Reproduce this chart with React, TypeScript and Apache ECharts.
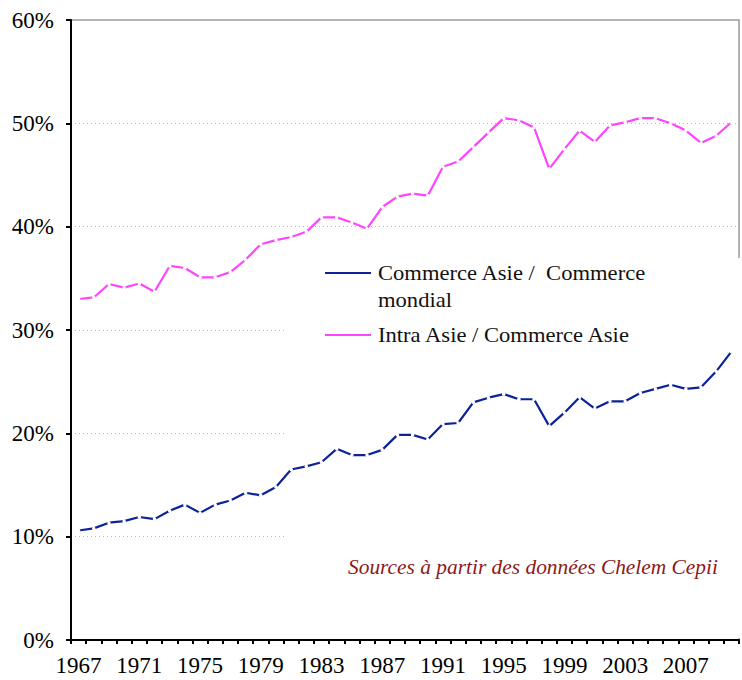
import React, { useEffect, useRef } from "react";
import * as echarts from "echarts";

const years: string[] = [];
for (let y = 1967; y <= 2010; y++) years.push(String(y));

const asieMondial: number[] = [
  10.6, 10.8, 11.35, 11.5, 11.9, 11.7, 12.5, 13.1, 12.3, 13.1,
  13.5, 14.25, 14.0, 14.8, 16.5, 16.8, 17.2, 18.5, 17.9, 17.9,
  18.4, 19.85, 19.85, 19.4, 20.9, 21.0, 23.0, 23.45, 23.8, 23.3,
  23.3, 20.7, 22.0, 23.5, 22.4, 23.1, 23.1, 23.9, 24.3, 24.7,
  24.3, 24.45, 26.0, 27.9,
];

const intraAsie: number[] = [
  33.0, 33.15, 34.45, 34.1, 34.5, 33.7, 36.2, 36.0, 35.1, 35.1,
  35.6, 36.8, 38.3, 38.7, 39.0, 39.5, 40.9, 40.9, 40.4, 39.8,
  41.9, 42.9, 43.2, 43.0, 45.8, 46.3, 47.7, 49.1, 50.5, 50.3,
  49.6, 45.6, 47.5, 49.3, 48.2, 49.8, 50.1, 50.5, 50.5, 50.0,
  49.3, 48.1, 48.8, 50.1,
];

const seriesNames = ["Commerce Asie /  Commerce mondial", "Intra Asie / Commerce Asie"];
const legendLines = [["Commerce Asie /  Commerce", "mondial"], ["Intra Asie / Commerce Asie"]];
const sourceText = "Sources à partir des données Chelem Cepii";

const BLUE = "#0b2299";
const PINK = "#ff44ff";
const FONT = "'Liberation Serif', 'Times New Roman', serif";

export default function App() {
  const ref = useRef<HTMLDivElement>(null);
  useEffect(() => {
    document.body.style.margin = "0";
    const chart = echarts.init(ref.current!, null, { renderer: "svg" });
    const legendText = (text: string, y: number) => ({
      type: "text",
      z: 4,
      x: 378,
      y,
      scaleX: 1.13,
      style: { text, fill: "#111", font: `20px ${FONT}`, textVerticalAlign: "middle" },
    });
    chart.setOption({
      animation: false,
      textStyle: { fontFamily: FONT },
      grid: {
        left: 71,
        right: 3,
        top: 20,
        bottom: 40,
        show: true,
        borderColor: "#9a9a9a",
        borderWidth: 1.5,
        backgroundColor: "transparent",
      },
      xAxis: {
        type: "category",
        data: years,
        boundaryGap: true,
        axisLine: { lineStyle: { color: "#000", width: 2 } },
        axisTick: { show: true, interval: 0, length: 4, lineStyle: { color: "#000", width: 2 } },
        axisLabel: { interval: 3, color: "#000", fontSize: 23, fontFamily: FONT, margin: 14 },
        splitLine: { show: false },
      },
      yAxis: {
        type: "value",
        min: 0,
        max: 60,
        interval: 10,
        axisLine: { show: true, lineStyle: { color: "#000", width: 2 } },
        axisTick: { show: true, length: 5, lineStyle: { color: "#000", width: 2 } },
        axisLabel: { formatter: "{value}%", color: "#000", fontSize: 23, fontFamily: FONT, margin: 17 },
        splitLine: { show: true, lineStyle: { color: "#b8b8b8", type: [1, 3], width: 1 } },
      },
      series: [
        {
          name: seriesNames[0],
          type: "line",
          data: asieMondial,
          symbol: "circle",
          symbolSize: 3.5,
          itemStyle: { color: "#fff", borderWidth: 0 },
          lineStyle: { color: BLUE, width: 2.2 },
          z: 3,
        },
        {
          name: seriesNames[1],
          type: "line",
          data: intraAsie,
          symbol: "circle",
          symbolSize: 3.5,
          itemStyle: { color: "#fff", borderWidth: 0 },
          lineStyle: { color: PINK, width: 2.2 },
          z: 3,
        },
      ],
      graphic: [
        {
          type: "rect",
          z: 1,
          shape: { x: 285, y: 258, width: 460, height: 380 },
          style: { fill: "#fff" },
        },
        {
          type: "line",
          z: 4,
          shape: { x1: 325, y1: 273, x2: 371, y2: 273 },
          style: { stroke: BLUE, lineWidth: 2 },
        },
        legendText(legendLines[0][0], 273),
        legendText(legendLines[0][1], 300),
        {
          type: "line",
          z: 4,
          shape: { x1: 325, y1: 335, x2: 371, y2: 335 },
          style: { stroke: PINK, lineWidth: 2 },
        },
        legendText(legendLines[1][0], 335),
        {
          type: "text",
          z: 4,
          x: 348,
          y: 567,
          scaleX: 1.07,
          style: { text: sourceText, fill: "#8b1a1a", font: `italic 20px ${FONT}`, textVerticalAlign: "middle" },
        },
      ],
    });
    return () => chart.dispose();
  }, []);
  return <div ref={ref} style={{ width: 742, height: 680 }} />;
}
